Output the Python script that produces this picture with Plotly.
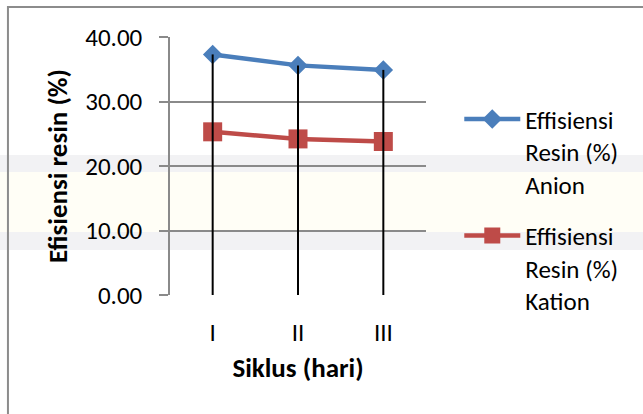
import plotly.graph_objects as go

# Resin efficiency per regeneration cycle
cycles = ["I", "II", "III"]
anion = [37.3, 35.6, 34.9]
kation = [25.3, 24.2, 23.8]
y_ticks = [0, 10, 20, 30, 40]
y_tick_text = ["0.00", "10.00", "20.00", "30.00", "40.00"]

FONT = "Carlito, Lato, sans-serif"
FS = 25
TITLE_FS = 27
BLUE = "#4a7ebb"
RED = "#be4b48"
GRID = "#8a8a8a"

fig = go.Figure()

fig.add_trace(go.Scatter(
    x=cycles, y=anion, mode="lines+markers",
    name="Effisiensi<br>Resin (%)<br>Anion", legendgroup="anion",
    line=dict(color=BLUE, width=4.5),
    marker=dict(symbol="diamond", size=15, color=BLUE),
))
fig.add_trace(go.Scatter(
    x=cycles, y=kation, mode="lines+markers",
    name="Effisiensi<br>Resin (%)<br>Kation", legendgroup="kation",
    line=dict(color=RED, width=4.5),
    marker=dict(symbol="square", size=19, color=RED),
))

# Drop lines from the highest series down to the category axis
drop_x, drop_y = [], []
for c, a, k in zip(cycles, anion, kation):
    drop_x += [c, c, None]
    drop_y += [0, max(a, k), None]
fig.add_trace(go.Scatter(
    x=drop_x, y=drop_y, mode="lines", showlegend=False,
    line=dict(color="black", width=2), hoverinfo="skip",
))

# Pale background bands and the outer chart frame
shapes = [
    dict(type="rect", xref="paper", yref="paper", x0=-0.7, x1=1.9,
         y0=0.477, y1=0.543, fillcolor="#f2f2f4", line_width=0, layer="below"),
    dict(type="rect", xref="paper", yref="paper", x0=-0.7, x1=1.9,
         y0=0.244, y1=0.477, fillcolor="#fffef6", line_width=0, layer="below"),
    dict(type="rect", xref="paper", yref="paper", x0=-0.7, x1=1.9,
         y0=0.174, y1=0.244, fillcolor="#f2f2f4", line_width=0, layer="below"),
    dict(type="rect", xref="paper", yref="paper", x0=-0.633, x1=2.0,
         y0=-1.0, y1=1.116, fillcolor="rgba(0,0,0,0)",
         line=dict(color="#8c8c8c", width=2), layer="above"),
]

fig.update_layout(
    width=643, height=414,
    margin=dict(l=170, r=217, t=37, b=119),
    paper_bgcolor="white", plot_bgcolor="rgba(0,0,0,0)",
    font=dict(family=FONT, size=FS, color="black"),
    shapes=shapes,
    showlegend=True,
    legend=dict(
        x=1.13, y=0.77, xanchor="left", yanchor="top",
        font=dict(family=FONT, size=FS, color="black"),
        itemwidth=56, valign="top", traceorder="grouped", tracegroupgap=16,
        bgcolor="rgba(0,0,0,0)",
    ),
    xaxis=dict(
        type="category", range=[-0.5, 2.5],
        showgrid=False, zeroline=False, showline=False,
        ticks="", ticklabelstandoff=20,
        tickfont=dict(family=FONT, size=FS),
        title=dict(text="<b>Siklus (hari)</b>", standoff=11,
                   font=dict(family=FONT, size=TITLE_FS)),
    ),
    yaxis=dict(
        range=[0, 40], tickvals=y_ticks, ticktext=y_tick_text,
        showgrid=True, gridcolor=GRID, gridwidth=1.5,
        zeroline=False, showline=True, linecolor=GRID, linewidth=1.5,
        ticks="outside", ticklen=9, tickcolor=GRID, tickwidth=1.5,
        ticklabelstandoff=12,
        tickfont=dict(family=FONT, size=FS),
        title=dict(text="<b>Efisiensi resin (%)</b>", standoff=10,
                   font=dict(family=FONT, size=TITLE_FS)),
    ),
)

fig.write_html("out.html")
